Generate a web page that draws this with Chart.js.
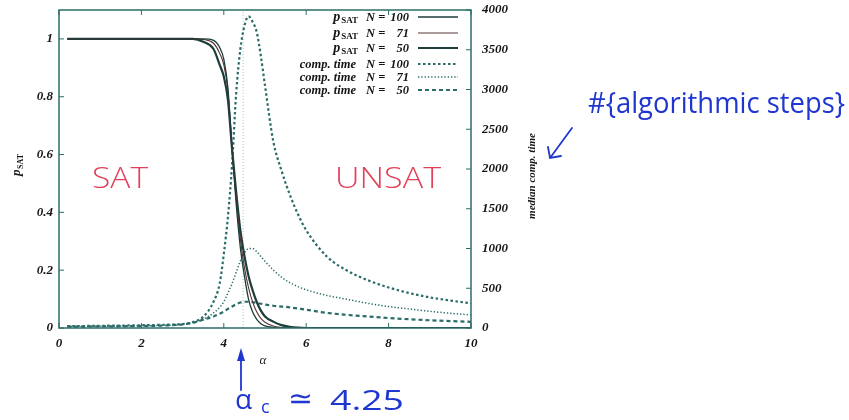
<!DOCTYPE html>
<html>
<head>
<meta charset="utf-8">
<script src="https://cdn.jsdelivr.net/npm/chart.js@4"></script>
<style>
    html, body { margin: 0; padding: 0; background: #fff; }
    #wrap { width: 849px; height: 420px; }
</style>
</head>
<body>
<div id="wrap"><canvas id="chart" width="849" height="420"></canvas></div>
<script>
// alpha = clauses / variables, shared by every curve
const alpha = [0.2, 0.5, 1, 1.5, 2, 2.5, 3, 3.25, 3.5, 3.75, 3.9, 4.0, 4.1, 4.2, 4.3, 4.4, 4.5, 4.6, 4.7, 4.8,
    4.9, 5.0, 5.2, 5.4, 5.6, 5.8, 6.0, 6.5, 7, 7.5, 8, 8.5, 9, 9.5, 10];

const psat100 = [1, 1, 1, 1, 1, 1, 1, 1, 1, 0.995, 0.97, 0.93, 0.83, 0.62, 0.43, 0.28, 0.18, 0.1, 0.055, 0.03,
    0.015, 0.007, 0.002, 0, 0, 0, 0, 0, 0, 0, 0, 0, 0, 0, 0];
const psat71 = [1, 1, 1, 1, 1, 1, 1, 1, 0.998, 0.985, 0.95, 0.91, 0.82, 0.62, 0.45, 0.31, 0.21, 0.14, 0.09, 0.055,
    0.033, 0.02, 0.007, 0.002, 0, 0, 0, 0, 0, 0, 0, 0, 0, 0, 0];
const psat50 = [1, 1, 1, 1, 1, 1, 1, 1, 0.99, 0.965, 0.91, 0.87, 0.79, 0.62, 0.47, 0.34, 0.25, 0.18, 0.13, 0.09,
    0.06, 0.04, 0.022, 0.01, 0.004, 0.001, 0, 0, 0, 0, 0, 0, 0, 0, 0];

const time100 = [25, 25, 28, 30, 35, 40, 50, 75, 140, 330, 560, 930, 1400, 2050, 2950, 3500, 3800, 3920, 3850, 3720,
    3420, 3050, 2350, 1980, 1680, 1430, 1230, 900, 720, 600, 510, 440, 385, 345, 310];
const time71 = [20, 20, 22, 24, 28, 33, 45, 70, 110, 190, 260, 330, 440, 560, 700, 840, 940, 1000, 1000, 960,
    900, 840, 730, 640, 570, 520, 480, 410, 360, 310, 270, 240, 210, 185, 165];
const time50 = [18, 18, 20, 22, 25, 30, 45, 65, 105, 145, 180, 205, 240, 270, 300, 320, 330, 330, 325, 315,
    305, 295, 280, 270, 260, 245, 230, 190, 165, 145, 125, 110, 97, 87, 78];

// where the faint vertical marker sits in the scan
const alphaMark = 4.47;

const xTicks = [0, 2, 4, 6, 8, 10];
const leftTicks = [0, 0.2, 0.4, 0.6, 0.8, 1];
const rightTicks = [0, 500, 1000, 1500, 2000, 2500, 3000, 3500, 4000];

const legendRows = [
    { name: "p", sub: "SAT", n: "100" },
    { name: "p", sub: "SAT", n: "71" },
    { name: "p", sub: "SAT", n: "50" },
    { name: "comp. time", n: "100" },
    { name: "comp. time", n: "71" },
    { name: "comp. time", n: "50" },
];

const dark = "#1d3d3b";
const teal = "#2a6c68";
const serif = "'Liberation Serif', 'DejaVu Serif', serif";
const hand = "#2036d0";
const redInk = "#e2405a";

function series(values) {
    return values.map((v, i) => ({ x: alpha[i], y: v }));
}

const datasets = [
    { label: "p_SAT N = 100", data: series(psat100), borderColor: dark, borderWidth: 1.3, yAxisID: "y" },
    { label: "p_SAT N = 71", data: series(psat71), borderColor: "#5a3434", borderWidth: 1.1, yAxisID: "y" },
    { label: "p_SAT N = 50", data: series(psat50), borderColor: dark, borderWidth: 2.2, yAxisID: "y" },
    { label: "comp. time N = 100", data: series(time100), borderColor: teal, borderWidth: 2.2, borderDash: [2.5, 2.5], yAxisID: "y2" },
    { label: "comp. time N = 71", data: series(time71), borderColor: teal, borderWidth: 1.5, borderDash: [1.3, 2], yAxisID: "y2" },
    { label: "comp. time N = 50", data: series(time50), borderColor: teal, borderWidth: 2.2, borderDash: [4, 3], yAxisID: "y2" },
    { label: "mark", data: [{ x: alphaMark, y: 0 }, { x: alphaMark, y: 1.1 }], borderColor: "#9cc4c8", borderWidth: 1, borderDash: [1, 2], yAxisID: "y" },
];
datasets.forEach(d => {
    d.pointRadius = 0;
    d.fill = false;
    d.cubicInterpolationMode = "monotone";
});

function drawLegend(ctx) {
    const baselines = [21, 37, 52, 68, 81, 94];
    ctx.save();
    ctx.fillStyle = "#141414";
    legendRows.forEach((r, i) => {
        const y = baselines[i];
        ctx.textAlign = "right";
        if (r.sub) {
            ctx.font = "bold 9px " + serif;
            const subW = ctx.measureText(r.sub).width;
            ctx.fillText(r.sub, 358, y + 2);
            ctx.font = "bold italic 14px " + serif;
            ctx.fillText(r.name, 358 - subW - 1, y);
        } else {
            ctx.font = "bold italic 12.5px " + serif;
            ctx.fillText(r.name, 356, y);
        }
        ctx.font = "bold italic 12.5px " + serif;
        ctx.textAlign = "left";
        ctx.fillText("N =", 366, y);
        ctx.textAlign = "right";
        ctx.fillText(r.n, 409, y);

        const ds = datasets[i];
        ctx.strokeStyle = ds.borderColor;
        ctx.lineWidth = ds.borderWidth;
        ctx.setLineDash(ds.borderDash || []);
        ctx.beginPath();
        ctx.moveTo(418, y - 4);
        ctx.lineTo(458, y - 4);
        ctx.stroke();
        ctx.setLineDash([]);
    });
    ctx.restore();
}

function fitText(ctx, text, x, y, width, font) {
    ctx.font = font;
    const w = ctx.measureText(text).width;
    ctx.save();
    ctx.translate(x, y);
    ctx.scale(width / w, 1);
    ctx.fillText(text, 0, 0);
    ctx.restore();
}

const decorPlugin = {
    id: "decor",
    afterDraw(chart) {
        const ctx = chart.ctx;
        const a = chart.chartArea;
        const sx = chart.scales.x, sy = chart.scales.y, sy2 = chart.scales.y2;

        // frame and inward ticks (gnuplot style)
        ctx.save();
        ctx.strokeStyle = "#2b6d68";
        ctx.lineWidth = 1.5;
        ctx.strokeRect(a.left, a.top, a.right - a.left, a.bottom - a.top);
        ctx.lineWidth = 1;
        ctx.beginPath();
        xTicks.forEach(v => {
            const px = sx.getPixelForValue(v);
            ctx.moveTo(px, a.bottom); ctx.lineTo(px, a.bottom - 5);
            ctx.moveTo(px, a.top); ctx.lineTo(px, a.top + 5);
        });
        leftTicks.forEach(v => {
            const py = sy.getPixelForValue(v);
            ctx.moveTo(a.left, py); ctx.lineTo(a.left + 5, py);
        });
        rightTicks.forEach(v => {
            const py = sy2.getPixelForValue(v);
            ctx.moveTo(a.right, py); ctx.lineTo(a.right - 5, py);
        });
        ctx.stroke();
        ctx.restore();

        drawLegend(ctx);

        ctx.save();
        ctx.fillStyle = "#141414";
        // left title p_SAT, reading upward
        ctx.translate(20, 166);
        ctx.rotate(-Math.PI / 2);
        ctx.textAlign = "left";
        ctx.font = "bold italic 13px " + serif;
        ctx.fillText("p", -10, 0);
        ctx.font = "bold 8px " + serif;
        ctx.fillText("SAT", -3, 3);
        ctx.restore();

        ctx.save();
        ctx.fillStyle = "#141414";
        ctx.translate(535, 176);
        ctx.rotate(-Math.PI / 2);
        ctx.textAlign = "center";
        ctx.font = "bold italic 11px " + serif;
        ctx.fillText("median comp. time", 0, 0);
        ctx.restore();

        ctx.save();
        ctx.fillStyle = "#222";
        ctx.font = "italic 13px " + serif;
        ctx.textAlign = "center";
        ctx.fillText("α", 263, 364);
        ctx.restore();

        // hand-written notes
        ctx.save();
        ctx.fillStyle = redInk;
        ctx.textAlign = "left";
        fitText(ctx, "SAT", 92, 188, 56, "300 30px 'Open Sans', sans-serif");
        fitText(ctx, "UNSAT", 335, 188, 106, "300 30px 'Open Sans', sans-serif");

        ctx.fillStyle = hand;
        fitText(ctx, "#{algorithmic steps}", 588, 113, 257, "29px 'Open Sans', sans-serif");

        ctx.font = "28px 'Open Sans', sans-serif";
        ctx.fillText("α", 235, 409);
        ctx.font = "18px 'Open Sans', sans-serif";
        ctx.fillText("c", 261, 413);
        fitText(ctx, "≃", 288, 408, 25, "28px 'DejaVu Sans', sans-serif");
        fitText(ctx, "4.25", 330, 410, 74, "28px 'Open Sans', sans-serif");

        ctx.strokeStyle = hand;
        ctx.lineWidth = 1.8;
        ctx.lineCap = "round";
        ctx.beginPath();
        ctx.moveTo(241, 390);
        ctx.lineTo(241, 358);
        ctx.stroke();
        ctx.beginPath();
        ctx.moveTo(241, 348);
        ctx.lineTo(245, 361);
        ctx.lineTo(237, 361);
        ctx.closePath();
        ctx.fill();

        ctx.beginPath();
        ctx.moveTo(572, 128);
        ctx.lineTo(550, 158);
        ctx.moveTo(548, 147);
        ctx.lineTo(550, 158);
        ctx.lineTo(561, 156);
        ctx.stroke();
        ctx.restore();
    }
};

const tickFont = { family: serif, size: 13, style: "italic", weight: "bold" };
const plain = v => String(v);
const noGrid = { display: false, drawTicks: false };

function noPad(s) {
    s.paddingTop = 0;
    s.paddingBottom = 0;
}

new Chart(document.getElementById("chart"), {
    type: "line",
    data: { datasets: datasets },
    options: {
        responsive: false,
        animation: false,
        devicePixelRatio: 1,
        layout: { padding: { top: 10, left: 0, right: 0, bottom: 0 } },
        plugins: { legend: { display: false }, tooltip: { enabled: false } },
        scales: {
            x: {
                type: "linear", min: 0, max: 10, position: "bottom",
                afterFit: s => { s.height = 92; s.paddingLeft = 0; s.paddingRight = 0; },
                afterBuildTicks: s => { s.ticks = xTicks.map(v => ({ value: v })); },
                grid: noGrid,
                border: { display: false },
                ticks: { font: tickFont, color: "#141414", padding: 8, maxRotation: 0, callback: plain }
            },
            y: {
                min: 0, max: 1.1, position: "left",
                afterFit: s => { s.width = 59; noPad(s); },
                afterBuildTicks: s => { s.ticks = leftTicks.map(v => ({ value: v })); },
                grid: noGrid,
                border: { display: false },
                ticks: { font: tickFont, color: "#141414", padding: 6, callback: plain }
            },
            y2: {
                min: 0, max: 4000, position: "right",
                afterFit: s => { s.width = 378; noPad(s); },
                afterBuildTicks: s => { s.ticks = rightTicks.map(v => ({ value: v })); },
                grid: noGrid,
                border: { display: false },
                ticks: { font: tickFont, color: "#141414", padding: 11, callback: plain }
            }
        }
    },
    plugins: [decorPlugin]
});
</script>
</body>
</html>
